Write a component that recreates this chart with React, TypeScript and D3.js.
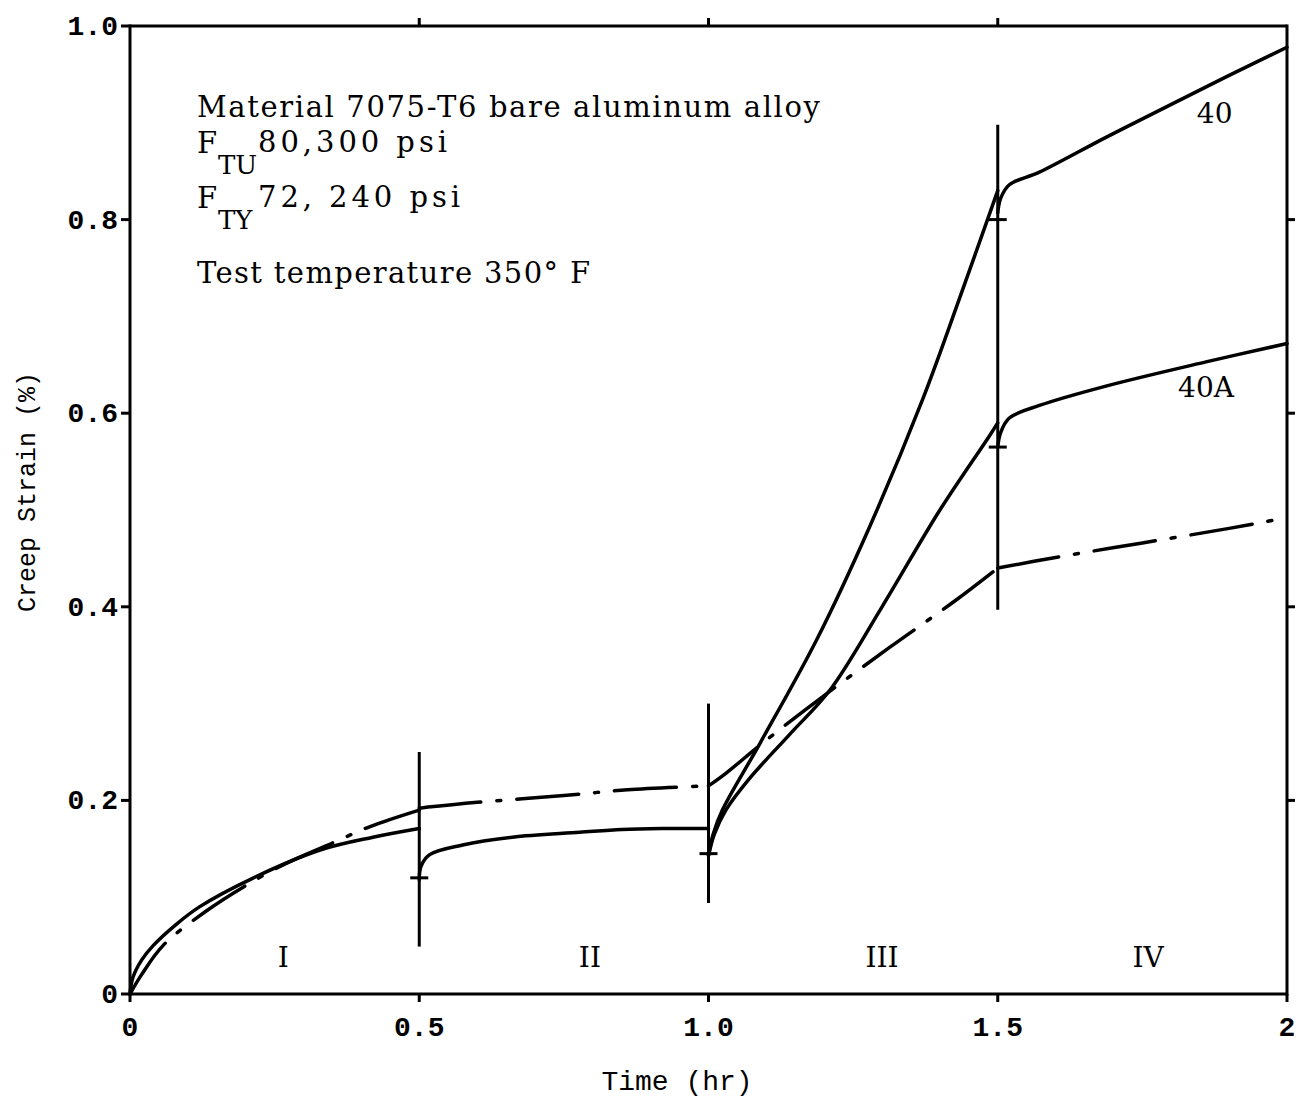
import React from "react";
import * as d3 from "d3";

// ---- data (time in hr, creep strain in %) ----
const xTicks = [0, 0.5, 1.0, 1.5, 2];
const xTickLabels = ["0", "0.5", "1.0", "1.5", "2"];
const yTicks = [0, 0.2, 0.4, 0.6, 0.8, 1.0];
const yTickLabels = ["0", "0.2", "0.4", "0.6", "0.8", "1.0"];

// Segment I (shared solid curve for 40 / 40A)
const timeSolidI = [0, 0.005, 0.02, 0.04, 0.08, 0.12, 0.21, 0.33, 0.42, 0.5];
const strainSolidI = [0, 0.017, 0.035, 0.05, 0.072, 0.09, 0.119, 0.149, 0.162, 0.171];
// Segment II (shared solid)
const timeSolidII = [0.5, 0.503, 0.518, 0.575, 0.661, 0.777, 0.85, 0.92, 1.0];
const strainSolidII = [0.118, 0.132, 0.144, 0.154, 0.162, 0.167, 0.17, 0.171, 0.171];
// Segment III
const time40III = [1.0, 1.008, 1.024, 1.089, 1.187, 1.278, 1.37, 1.433, 1.5];
const strain40III = [0.143, 0.165, 0.19, 0.259, 0.366, 0.482, 0.614, 0.717, 0.83];
const time40AIII = [1.0, 1.01, 1.03, 1.07, 1.14, 1.21, 1.3, 1.4, 1.485, 1.5];
const strain40AIII = [0.143, 0.165, 0.19, 0.222, 0.268, 0.314, 0.4, 0.5, 0.576, 0.59];
// Segment IV
const time40IV = [1.5, 1.505, 1.52, 1.572, 1.687, 1.8, 1.9, 2.0];
const strain40IV = [0.807, 0.822, 0.836, 0.849, 0.885, 0.919, 0.949, 0.978];
const time40AIV = [1.5, 1.505, 1.52, 1.572, 1.687, 1.86, 2.0];
const strain40AIV = [0.565, 0.58, 0.595, 0.608, 0.628, 0.653, 0.672];

// Dash-dot series
const timeDashI = [0, 0.02, 0.057, 0.13, 0.2, 0.27, 0.35, 0.415, 0.5];
const strainDashI = [0, 0.02, 0.05, 0.085, 0.112, 0.135, 0.156, 0.173, 0.19];
const timeDashII = [0.5, 0.6, 0.75, 0.86, 1.0];
const strainDashII = [0.192, 0.198, 0.205, 0.211, 0.215];
const timeDashIII = [1.0, 1.03, 1.093, 1.197, 1.313, 1.428, 1.5];
const strainDashIII = [0.215, 0.228, 0.259, 0.307, 0.358, 0.407, 0.44];
const timeDashIV = [1.5, 1.6, 1.75, 1.9, 2.0];
const strainDashIV = [0.44, 0.451, 0.466, 0.481, 0.492];

// Load-change vertical lines
const changeTimes = [0.5, 1.0, 1.5];
const changeTop = [0.25, 0.3, 0.898];
const changeBottom = [0.049, 0.094, 0.397];

// small reference marks on the change lines
const markTimes = [0.5, 1.0, 1.5, 1.5];
const markStrains = [0.12, 0.145, 0.8, 0.565];

// stage labels
const stageLabels = ["I", "II", "III", "IV"];
const stageTimes = [0.265, 0.795, 1.3, 1.76];
const stageStrain = 0.03;

const curveLabels = ["40", "40A"];
const curveLabelTimes = [1.875, 1.86];
const curveLabelStrains = [0.9, 0.617];

const W = 1298;
const H = 1097;

function zip(t: number[], v: number[]) {
  return t.map((d, i) => [d, v[i]] as [number, number]);
}

export default function App() {
  const x = d3.scaleLinear().domain([0, 2]).range([130, 1287]);
  const y = d3.scaleLinear().domain([0, 1]).range([994, 26]);
  const line = d3
    .line<[number, number]>()
    .x((d) => x(d[0]))
    .y((d) => y(d[1]))
    .curve(d3.curveCatmullRom.alpha(0.5));

  const solidSegs = [
    zip(timeSolidI, strainSolidI),
    zip(timeSolidII, strainSolidII),
    zip(time40III, strain40III),
    zip(time40AIII, strain40AIII),
    zip(time40IV, strain40IV),
    zip(time40AIV, strain40AIV),
  ];
  const dashSegs = [
    zip(timeDashI, strainDashI),
    zip(timeDashII, strainDashII),
    zip(timeDashIII, strainDashIII),
    zip(timeDashIV, strainDashIV),
  ];

  const mono = "'Liberation Mono', 'DejaVu Sans Mono', monospace";
  const serif = "'DejaVu Serif', 'Liberation Serif', serif";
  const x0 = x(0), x1 = x(2), y0 = y(0), y1 = y(1);

  return (
    <svg
      width={W}
      height={H}
      viewBox={`0 0 ${W} ${H}`}
      style={{ position: "absolute", left: 0, top: 0, background: "#fff" }}
    >
      <rect x={0} y={0} width={W} height={H} fill="#fff" />
      {/* frame */}
      <g stroke="#000" strokeWidth={3} fill="none">
        <line x1={x0} y1={y0} x2={x1} y2={y0} />
        <line x1={x0} y1={y1} x2={x1} y2={y1} />
        <line x1={x0} y1={y0 + 1.5} x2={x0} y2={y1 - 1.5} />
        <line x1={x1} y1={y0 + 1.5} x2={x1} y2={y1 - 1.5} />
      </g>
      {/* ticks */}
      <g stroke="#000" strokeWidth={3}>
        {xTicks.map((t, i) => (
          <g key={"xt" + i}>
            <line x1={x(t)} x2={x(t)} y1={y0} y2={y0 + 8} />
            {t > 0 && t < 2 && <line x1={x(t)} x2={x(t)} y1={y1} y2={y1 - 8} />}
          </g>
        ))}
        {yTicks.map((v, i) => (
          <g key={"yt" + i}>
            <line x1={x0} x2={x0 - 9} y1={y(v)} y2={y(v)} />
            {v > 0 && v < 1 && <line x1={x1} x2={x1 + 8} y1={y(v)} y2={y(v)} />}
          </g>
        ))}
      </g>
      {/* tick labels */}
      <g fontFamily={mono} fontWeight="bold" fontSize={28} fill="#000">
        {xTicks.map((t, i) => (
          <text key={"xl" + i} x={x(t)} y={1036} textAnchor="middle">
            {xTickLabels[i]}
          </text>
        ))}
        {yTicks.map((v, i) => (
          <text key={"yl" + i} x={118} y={y(v) + 9} textAnchor="end">
            {yTickLabels[i]}
          </text>
        ))}
      </g>
      {/* axis titles */}
      <text
        x={677}
        y={1090}
        textAnchor="middle"
        fontFamily={mono}
        fontSize={28}
        fill="#000"
      >
        Time (hr)
      </text>
      <text
        transform={`translate(35, 492) rotate(-90)`}
        textAnchor="middle"
        fontFamily={mono}
        fontSize={25}
        fill="#000"
      >
        Creep Strain (%)
      </text>

      {/* change lines */}
      <g stroke="#000" strokeWidth={3}>
        {changeTimes.map((t, i) => (
          <line key={"cl" + i} x1={x(t)} x2={x(t)} y1={y(changeTop[i])} y2={y(changeBottom[i])} />
        ))}
        {markTimes.map((t, i) => (
          <line key={"mk" + i} x1={x(t) - 9} x2={x(t) + 9} y1={y(markStrains[i])} y2={y(markStrains[i])} />
        ))}
      </g>

      {/* curves */}
      <g fill="none" stroke="#000" strokeWidth={3.5} strokeLinecap="round">
        {solidSegs.map((s, i) => (
          <path key={"s" + i} d={line(s) || ""} />
        ))}
        {dashSegs.map((s, i) => (
          <path key={"d" + i} d={line(s) || ""} strokeDasharray="62 16 4 16" />
        ))}
      </g>

      {/* annotations */}
      <g fontFamily={serif} fontSize={29} fill="#000">
        <text x={197} y={117} textLength={623} lengthAdjust="spacing">
          Material 7075-T6 bare aluminum alloy
        </text>
        <text x={197} y={153}>F</text>
        <text x={218} y={174} fontSize={26}>TU</text>
        <text x={258} y={152} textLength={189} lengthAdjust="spacing">80,300 psi</text>
        <text x={197} y={208}>F</text>
        <text x={218} y={229} fontSize={26}>TY</text>
        <text x={258} y={207} textLength={202} lengthAdjust="spacing">72, 240 psi</text>
        <text x={197} y={283} textLength={393} lengthAdjust="spacing">
          Test temperature 350° F
        </text>
      </g>
      <g fontFamily={serif} fontSize={28} fill="#000">
        {stageLabels.map((s, i) => (
          <text key={"st" + i} x={x(stageTimes[i])} y={y(stageStrain) + 2} textAnchor="middle">
            {s}
          </text>
        ))}
        {curveLabels.map((s, i) => (
          <text key={"cv" + i} x={x(curveLabelTimes[i])} y={y(curveLabelStrains[i])} textAnchor="middle">
            {s}
          </text>
        ))}
      </g>
    </svg>
  );
}
